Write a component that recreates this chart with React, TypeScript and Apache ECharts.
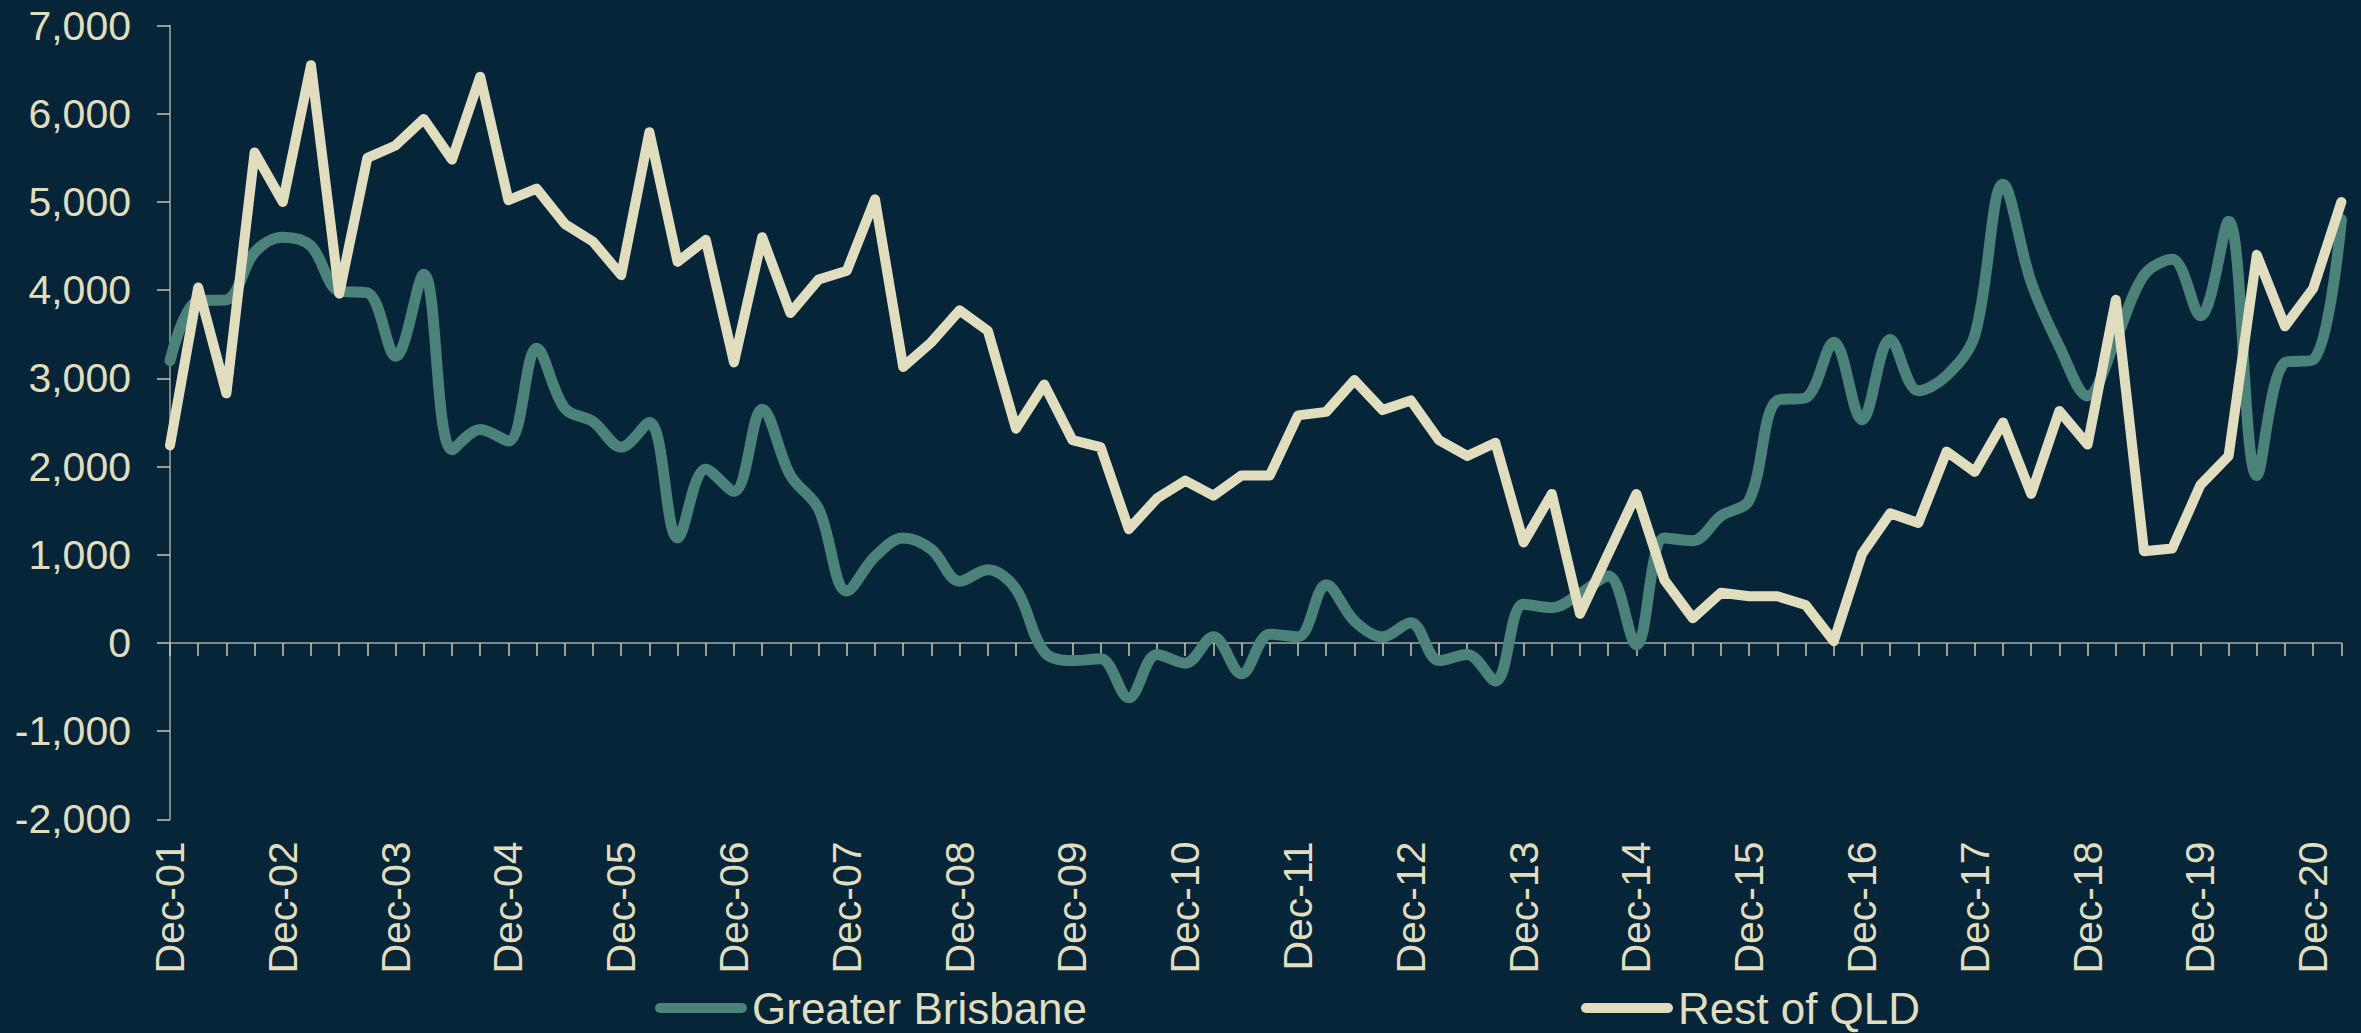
import React, { useEffect, useRef } from "react";
import * as echarts from "echarts";

const quarters: string[] = [
  "Dec-01", "Mar-02", "Jun-02", "Sep-02", "Dec-02", "Mar-03", "Jun-03", "Sep-03",
  "Dec-03", "Mar-04", "Jun-04", "Sep-04", "Dec-04", "Mar-05", "Jun-05", "Sep-05",
  "Dec-05", "Mar-06", "Jun-06", "Sep-06", "Dec-06", "Mar-07", "Jun-07", "Sep-07",
  "Dec-07", "Mar-08", "Jun-08", "Sep-08", "Dec-08", "Mar-09", "Jun-09", "Sep-09",
  "Dec-09", "Mar-10", "Jun-10", "Sep-10", "Dec-10", "Mar-11", "Jun-11", "Sep-11",
  "Dec-11", "Mar-12", "Jun-12", "Sep-12", "Dec-12", "Mar-13", "Jun-13", "Sep-13",
  "Dec-13", "Mar-14", "Jun-14", "Sep-14", "Dec-14", "Mar-15", "Jun-15", "Sep-15",
  "Dec-15", "Mar-16", "Jun-16", "Sep-16", "Dec-16", "Mar-17", "Jun-17", "Sep-17",
  "Dec-17", "Mar-18", "Jun-18", "Sep-18", "Dec-18", "Mar-19", "Jun-19", "Sep-19",
  "Dec-19", "Mar-20", "Jun-20", "Sep-20", "Dec-20", "Mar-21",
];

const greaterBrisbane: number[] = [
  3200, 3880, 3890, 4430, 4600, 4500, 3990, 3970,
  3250, 4180, 2190, 2420, 2290, 3340, 2660, 2510,
  2220, 2500, 1190, 1970, 1720, 2650, 1900, 1520,
  590, 980, 1190, 1060, 700, 830, 610, -100,
  -200, -180, -620, -130, -230, 70, -350, 100,
  70, 660, 250, 70, 230, -200, -130, -430,
  440, 400, 560, 760, -20, 1190, 1160, 1440,
  1620, 2750, 2780, 3410, 2530, 3440, 2860, 3030,
  3490, 5200, 4090, 3360, 2800, 3440, 4170, 4350,
  3710, 4780, 1900, 3180, 3210, 4800,
];

const restOfQLD: number[] = [
  2240, 4030, 2830, 5560, 5000, 6550, 3960, 5500,
  5640, 5940, 5480, 6420, 5020, 5150, 4750, 4550,
  4170, 5790, 4320, 4570, 3180, 4600, 3740, 4120,
  4220, 5030, 3130, 3410, 3770, 3540, 2430, 2930,
  2300, 2220, 1290, 1640, 1840, 1670, 1900, 1900,
  2580, 2620, 2980, 2640, 2750, 2300, 2120, 2270,
  1140, 1690, 330, 1010, 1690, 710, 280, 570,
  530, 530, 430, 20, 1010, 1470, 1360, 2170,
  1940, 2500, 1690, 2630, 2250, 3890, 1040, 1070,
  1790, 2120, 4400, 3590, 4020, 5000,
];

const seriesNames: string[] = ["Greater Brisbane", "Rest of QLD"];

const BG = "#062539";
const CREAM = "#e1debf";
const TEAL = "#4b8279";
const AXIS = "#a3a89e";
const FONT = "'Liberation Sans', Arial, sans-serif";
const PILL = "path://M5,0 L87,0 A5,5 0 0 1 87,10 L5,10 A5,5 0 0 1 5,0 Z";

export default function App() {
  const ref = useRef<HTMLDivElement>(null);

  useEffect(() => {
    document.body.style.margin = "0";
    document.body.style.background = BG;
    const chart = echarts.init(ref.current!, null, { renderer: "svg" });
    const legendText = { color: CREAM, fontSize: 44, fontFamily: FONT, lineHeight: 44 };
    chart.setOption({
      animation: false,
      backgroundColor: BG,
      textStyle: { fontFamily: FONT },
      grid: { left: 170, right: 19.6, top: 25.5, bottom: 213.6, containLabel: false },
      legend: [
        {
          data: [seriesNames[0]],
          left: 655,
          top: 986,
          padding: 0,
          icon: PILL,
          itemWidth: 92,
          itemHeight: 10,
          textStyle: legendText,
        },
        {
          data: [seriesNames[1]],
          left: 1581,
          top: 986,
          padding: 0,
          icon: PILL,
          itemWidth: 92,
          itemHeight: 10,
          textStyle: legendText,
        },
      ],
      xAxis: [
        {
          type: "category",
          data: quarters,
          boundaryGap: false,
          axisLine: { show: true, onZero: true, lineStyle: { color: AXIS, width: 1.5 } },
          axisTick: { show: true, interval: 0, length: 13, lineStyle: { color: "#c9c8b2", width: 1.5 } },
          axisLabel: { show: false },
          splitLine: { show: false },
        },
        {
          type: "category",
          data: quarters,
          boundaryGap: false,
          position: "bottom",
          axisLine: { show: false, onZero: false },
          axisTick: { show: false },
          axisLabel: {
            show: true,
            interval: 3,
            rotate: 90,
            margin: 22,
            color: CREAM,
            fontSize: 41,
            fontFamily: FONT,
          },
          splitLine: { show: false },
        },
      ],
      yAxis: {
        type: "value",
        min: -2000,
        max: 7000,
        interval: 1000,
        axisLine: { show: true, lineStyle: { color: AXIS, width: 1.5 } },
        axisTick: { show: true, length: 13, lineStyle: { color: "#c9c8b2", width: 1.5 } },
        axisLabel: {
          color: CREAM,
          fontSize: 41,
          fontFamily: FONT,
          margin: 39,
          formatter: (v: number) => v.toLocaleString("en-US"),
        },
        splitLine: { show: false },
      },
      series: [
        {
          name: seriesNames[0],
          type: "line",
          xAxisIndex: 0,
          data: greaterBrisbane,
          smooth: 0.35,
          showSymbol: false,
          symbol: "none",
          color: TEAL,
          lineStyle: { color: TEAL, width: 11, cap: "round", join: "round" },
        },
        {
          name: seriesNames[1],
          type: "line",
          xAxisIndex: 0,
          data: restOfQLD,
          smooth: false,
          showSymbol: false,
          symbol: "none",
          color: CREAM,
          lineStyle: { color: CREAM, width: 10, cap: "round", join: "round" },
        },
      ],
    });
    return () => chart.dispose();
  }, []);

  return (
    <div
      ref={ref}
      style={{ position: "fixed", left: 0, top: 0, width: 2361, height: 1033, background: BG }}
    />
  );
}
